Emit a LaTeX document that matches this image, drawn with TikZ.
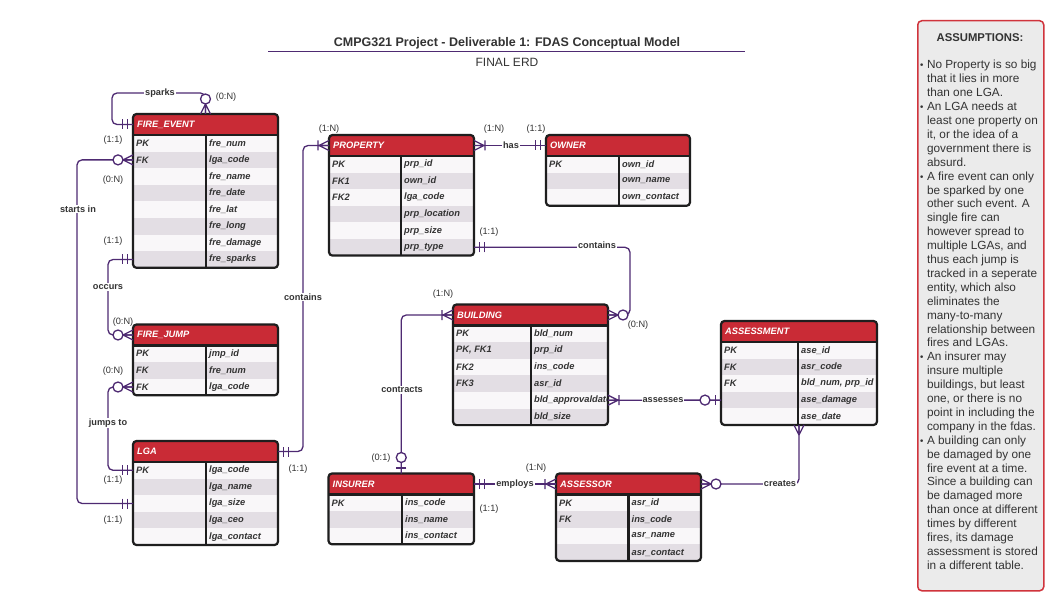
\documentclass[tikz,border=0pt]{standalone}
\usepackage{fontspec}
\setmainfont{Liberation Sans}
\newfontfamily\dvs{DejaVu Sans}
\definecolor{hdrred}{HTML}{C92B36}
\definecolor{rowlight}{HTML}{F9F7F9}
\definecolor{rowdark}{HTML}{E3DEE4}
\definecolor{relc}{HTML}{4E2A72}
\definecolor{bordc}{HTML}{1E1E1E}
\definecolor{txtc}{HTML}{333333}
\definecolor{asbg}{HTML}{EBEBEB}
\definecolor{asred}{HTML}{D0343C}
\tikzset{
  box/.style={inner sep=0, outer sep=0, anchor=north west, draw=none},
  celltxt/.style={anchor=west, inner sep=0, text=txtc, font=\bfseries\itshape\fontsize{9.3}{10}\selectfont},
  hdrtxt/.style={anchor=west, inner sep=0, text=white, font=\bfseries\itshape\fontsize{9.3}{10}\selectfont},
  tabline/.style={draw=bordc, line width=2.2},
  rel/.style={draw=relc, line width=1.3, rounded corners=5},
  mk/.style={draw=relc, line width=1.3},
  rlab/.style={fill=white, inner sep=1, text=txtc, font=\bfseries\fontsize{9.2}{10}\selectfont},
  card/.style={inner sep=0, text=txtc, font=\fontsize{9.2}{10}\selectfont},
  pics/one/.style={code={\draw[mk] (-5.5,-5)--(-5.5,5) (-10.5,-5)--(-10.5,5);}},
  pics/many/.style={code={\draw[mk] (-10,0)--(0,5) (-10,0)--(0,-5) (-10,0)--(0,0);}},
  pics/onemany/.style={code={\draw[mk] (-10,0)--(0,5) (-10,0)--(0,-5) (-10,0)--(0,0) (-11,-5)--(-11,5);}},
  pics/zeromany/.style={code={\draw[mk] (-10,0)--(0,5) (-10,0)--(0,-5) (-10,0)--(0,0); \draw[mk,fill=white] (-15,0) circle (5pt);}},
  pics/zeroone/.style={code={\draw[mk] (-5.5,-5)--(-5.5,5); \draw[mk,fill=white] (-16,0) circle (5pt);}},
}
\newcommand\bul{{\dvs\fontsize{9}{9}\selectfont •}}
% #1 name #2 left #3 top #4 right #5 divider #6 rows #7 title #8 list
\newcommand\erdtab[8]{%
  \pgfmathsetmacro\erdb{#3+21+#6*16.6}%
  \node[box, minimum width={#4-#2}, minimum height={\erdb-#3}] (#1) at (#2,#3) {};%
  \begin{scope}
    \clip[rounded corners=3.5] (#2,#3) rectangle (#4,\erdb);
    \fill[hdrred] (#2,#3) rectangle (#4,#3+21);
    \foreach \k/\f [count=\i] in {#8} {%
      \pgfmathsetmacro\ya{#3+21+(\i-1)*16.6}%
      \pgfmathtruncatemacro\odd{mod(\i,2)}%
      \ifnum\odd=1 \def\rc{rowlight}\else\def\rc{rowdark}\fi
      \node[box, fill=\rc, minimum width={#4-#2}, minimum height=16.6] (#1-r\i) at (#2,\ya) {};
      \node[celltxt] (#1-k\i) at (#2+3,\ya+8.3) {\k};
      \node[celltxt] (#1-f\i) at (#5+3,\ya+8.3) {\f};
    }
  \end{scope}
  \node[box, minimum width={#4-#2}, minimum height=21] (#1-h) at (#2,#3) {};
  \node[hdrtxt] (#1-t) at (#2+4,#3+10.5) {#7};
  \draw[tabline, rounded corners=3.5] (#2,#3) rectangle (#4,\erdb);
  \draw[tabline] (#2,#3+21) -- (#4,#3+21);
  \draw[tabline] (#5,#3+21) -- (#5,\erdb);
}
\begin{document}
\begin{tikzpicture}[x=1pt, y=-1pt]
\useasboundingbox (0,0) rectangle (1058,604);
\fill[white] (0,0) rectangle (1058,604);

% title
\node[text=txtc, font=\bfseries\fontsize{12.5}{14}\selectfont] (title) at (507,43) {CMPG321 Project - Deliverable 1: FDAS Conceptual Model};
\coordinate (ul1) at (268,51.5);
\coordinate (ul2) at (745,51.5);
\draw[relc, line width=1] (ul1) -- (ul2);
\node[text=txtc, font=\fontsize{12}{14}\selectfont] (subtitle) at (507,62) {FINAL ERD};

% tables
\erdtab{fe}{133}{114}{278}{206}{8}{FIRE\_EVENT}{PK/fre\_num, FK/lga\_code, /fre\_name, /fre\_date, /fre\_lat, /fre\_long, /fre\_damage, /fre\_sparks}
\erdtab{pr}{329}{135}{474}{401}{6}{PROPERTY}{PK/prp\_id, FK1/own\_id, FK2/lga\_code, /prp\_location, /prp\_size, /prp\_type}
\erdtab{ow}{546}{135}{690}{619}{3}{OWNER}{PK/own\_id, /own\_name, /own\_contact}
\erdtab{fj}{133}{324.5}{278}{206}{3}{FIRE\_JUMP}{PK/jmp\_id, FK/fre\_num, FK/lga\_code}
\erdtab{lg}{133}{441}{278}{206}{5}{LGA}{PK/lga\_code, /lga\_name, /lga\_size, /lga\_ceo, /lga\_contact}
\erdtab{bd}{453}{304.5}{608}{531}{6}{BUILDING}{PK/bld\_num, {PK, FK1}/prp\_id, FK2/ins\_code, FK3/asr\_id, /bld\_approvaldate, /bld\_size}
\erdtab{as}{721}{321}{877}{798}{5}{ASSESSMENT}{PK/ase\_id, FK/asr\_code, FK/{bld\_num, prp\_id}, /ase\_damage, /ase\_date}
\erdtab{in}{328.5}{473.5}{474}{402}{3}{INSURER}{PK/ins\_code, /ins\_name, /ins\_contact}
\erdtab{ar}{556}{473.5}{701}{628.5}{4}{ASSESSOR}{PK/asr\_id, FK/ins\_code, /asr\_name, /asr\_contact}

% connectors
\coordinate (sp1) at (112,93);
\draw[rel] (fe-h.west) -| (sp1) -| (fe.north);
\draw[rel] (fe-r2.west) -- ++(-56,0) |- (lg-r3.west);
\draw[rel] (fe-r8.west) -- ++(-25,0) |- (fj-h.west);
\draw[rel] (fj-r3.west) -- ++(-25,0) |- (lg-r1.west);
\draw[rel] (lg-h.east) -- ++(25,0) |- (pr-h.west);
\draw[rel] (pr-h.east) -- (ow-h.west);
\draw[rel] (pr-r6.east) -- ++(156,0) |- (bd-h.east);
\draw[rel] (bd-h.west) -| (in.north);
\draw[rel] (bd-r5.east) -- (as-r4.west);
\draw[rel] (as.south) |- (ar-h.east);
\draw[rel] (in-h.east) -- (ar-h.west);

% markers
\pic at (fe-h.west) {one};
\pic[rotate=-90] at (fe.north) {zeromany};
\pic at (fe-r2.west) {zeromany};
\pic at (lg-r3.west) {one};
\pic at (fe-r8.west) {one};
\pic at (fj-h.west) {zeromany};
\pic at (fj-r3.west) {zeromany};
\pic at (lg-r1.west) {one};
\pic[rotate=180] at (lg-h.east) {one};
\pic at (pr-h.west) {onemany};
\pic[rotate=180] at (pr-h.east) {onemany};
\pic at (ow-h.west) {one};
\pic[rotate=180] at (pr-r6.east) {one};
\pic[rotate=180] at (bd-h.east) {zeromany};
\pic at (bd-h.west) {onemany};
\pic[rotate=-90] at (in.north) {zeroone};
\pic[rotate=180] at (bd-r5.east) {onemany};
\pic at (as-r4.west) {zeroone};
\pic[rotate=90] at (as.south) {many};
\pic[rotate=180] at (ar-h.east) {zeromany};
\pic[rotate=180] at (in-h.east) {one};
\pic at (ar-h.west) {onemany};

% relationship labels
\node[rlab] (l-sparks) at (160,93) {sparks};
\node[rlab] (l-starts) at (78,209) {starts in};
\node[rlab] (l-occurs) at (108,287) {occurs};
\node[rlab] (l-jumps) at (108,423) {jumps to};
\node[rlab] (l-contains1) at (303,297) {contains};
\node[rlab] (l-has) at (511,145) {has};
\node[rlab] (l-contains2) at (597,245) {contains};
\node[rlab] (l-contracts) at (402,390) {contracts};
\node[rlab] (l-assesses) at (663,400) {assesses};
\node[rlab] (l-creates) at (780,484) {creates};
\node[rlab] (l-employs) at (515,484) {employs};

% cardinalities
\node[card] (c1) at (226,97) {(0:N)};
\node[card] (c2) at (113,140) {(1:1)};
\node[card] (c3) at (113,180) {(0:N)};
\node[card] (c4) at (113,241) {(1:1)};
\node[card] (c5) at (123,322) {(0:N)};
\node[card] (c6) at (113,371) {(0:N)};
\node[card] (c7) at (113,480) {(1:1)};
\node[card] (c8) at (113,520) {(1:1)};
\node[card] (c9) at (298,469) {(1:1)};
\node[card] (c10) at (329,129) {(1:N)};
\node[card] (c11) at (494,129) {(1:N)};
\node[card] (c12) at (536,129) {(1:1)};
\node[card] (c13) at (489,232) {(1:1)};
\node[card] (c14) at (638,325) {(0:N)};
\node[card] (c15) at (443,294) {(1:N)};
\node[card] (c16) at (381,458) {(0:1)};
\node[card] (c17) at (536,468) {(1:N)};
\node[card] (c18) at (489,509) {(1:1)};

% assumptions
\node[draw=asred, fill=asbg, rounded corners=4, line width=1.5, minimum width=126, minimum height=570, anchor=north west, inner sep=0] (asm) at (917,20) {};
\node[text=txtc, font=\bfseries\fontsize{11.3}{13}\selectfont] (asmt) at (980,38) {ASSUMPTIONS:};
\node[anchor=north west, inner sep=0, text=txtc, font=\fontsize{11.8}{13.9}\selectfont] (asml) at (919,59) {%
\renewcommand{\arraystretch}{1}%
\begin{tabular}{@{}l@{\hspace{2.5pt}}l@{}}
\bul & No Property is so big\\
 & that it lies in more\\
 & than one LGA.\\
\bul & An LGA needs at\\
 & least one property on\\
 & it, or the idea of a\\
 & government there is\\
 & absurd.\\
\bul & A fire event can only\\
 & be sparked by one\\
 & other such event. A\\
 & single fire can\\
 & however spread to\\
 & multiple LGAs, and\\
 & thus each jump is\\
 & tracked in a seperate\\
 & entity, which also\\
 & eliminates the\\
 & many-to-many\\
 & relationship between\\
 & fires and LGAs.\\
\bul & An insurer may\\
 & insure multiple\\
 & buildings, but least\\
 & one, or there is no\\
 & point in including the\\
 & company in the fdas.\\
\bul & A building can only\\
 & be damaged by one\\
 & fire event at a time.\\
 & Since a building can\\
 & be damaged more\\
 & than once at different\\
 & times by different\\
 & fires, its damage\\
 & assessment is stored\\
 & in a different table.
\end{tabular}};
\end{tikzpicture}
\end{document}
